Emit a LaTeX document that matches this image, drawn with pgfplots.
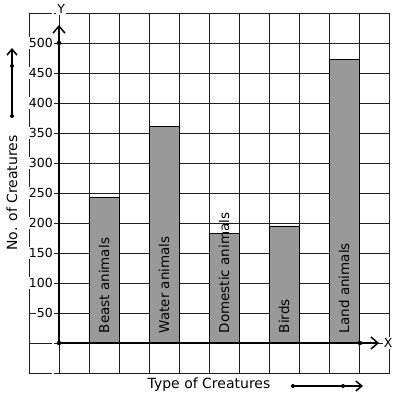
\documentclass[border=0pt]{standalone}
\usepackage{fontspec}
\setmainfont{DejaVu Sans}
\usepackage{pgfplots}
\pgfplotsset{compat=1.18}
\usetikzlibrary{arrows.meta}
\definecolor{bargray}{RGB}{153,153,153}
\definecolor{gridc}{RGB}{30,30,30}
\begin{document}
\begin{tikzpicture}[font=\fontsize{12.5}{14}\selectfont]
\begin{axis}[
 name=ax,
 x=30pt, y=0.6pt,
 xmin=-1, xmax=11, ymin=-50, ymax=550,
 axis line style={draw=gridc, line width=0.8pt},
 xtick={-1,0,...,11}, xticklabels={},
 ytick={50,100,...,500},
 extra y ticks={-50,0,550}, extra y tick labels={},
 extra y tick style={grid=major},
 grid=major, major grid style={gridc, line width=0.8pt},
 major tick length=0pt,
 /pgf/number format/assume math mode=true,
 yticklabel style={fill=white, inner sep=1pt, xshift=25pt},
 xlabel={Type of Creatures}, ylabel={No. of Creatures},
 label style={font=\fontsize{14}{16}\selectfont},
 xlabel style={at={(axis description cs:0.5,-0.0333)}, anchor=center},
 ylabel style={at={(axis description cs:-0.0472,0.5)}, anchor=center},
 clip=false,
]
\addplot[ybar, bar width=1, fill=bargray, draw=black, line width=0.8pt]
  coordinates {(1.5,242) (3.5,361) (5.5,183) (7.5,195) (9.5,473)};
\begin{scope}[every node/.style={rotate=90, anchor=west, inner sep=0pt, font=\fontsize{13.5}{15}\selectfont}]
\node at (axis cs:1.5,16) {Beast animals};
\node at (axis cs:3.5,16) {Water animals};
\node at (axis cs:5.5,16) {Domestic animals};
\node at (axis cs:7.5,16) {Birds};
\node at (axis cs:9.5,16) {Land animals};
\end{scope}
\draw[line width=2pt, -{Straight Barb[length=7pt,width=12pt,line width=1.5pt]}] (axis cs:0,0) -- (axis cs:0,530);
\draw[line width=2pt, -{Straight Barb[length=7pt,width=12pt,line width=1.5pt]}] (axis cs:0,0) -- (axis cs:10.67,0);
\addplot[only marks, mark=*, mark size=2pt, black] coordinates {(0,0) (0,500) (10.03,0)};
\node[fill=white, inner sep=1pt] at (axis cs:0.07,556) {Y};
\node[fill=white, inner sep=1pt] at (axis cs:10.97,0) {X};
\draw[line width=1.5pt, -{Straight Barb[length=6pt,width=10pt]}] (axis description cs:-0.0472,0.7139) -- (axis description cs:-0.0472,0.9028);
\fill (axis description cs:-0.0472,0.7139) circle (2pt);
\fill (axis description cs:-0.0472,0.8528) circle (2pt);
\draw[line width=1.5pt, -{Straight Barb[length=6pt,width=10pt]}] (axis description cs:0.7333,-0.0361) -- (axis description cs:0.9278,-0.0361);
\fill (axis description cs:0.7333,-0.0361) circle (2pt);
\fill (axis description cs:0.8722,-0.0361) circle (2pt);
\end{axis}
\pgfresetboundingbox
\path ([shift={(-29pt,-26pt)}]ax.south west) rectangle ([shift={(8pt,13pt)}]ax.north east);
\end{tikzpicture}
\end{document}
